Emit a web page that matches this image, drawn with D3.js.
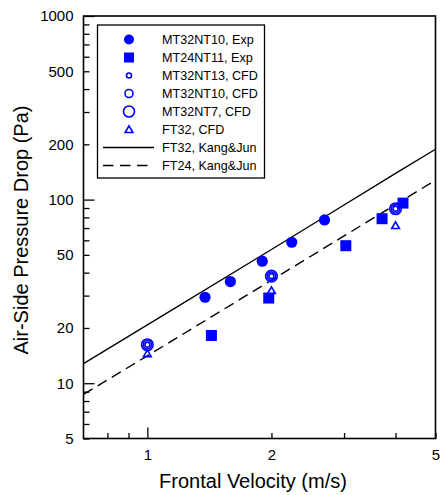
<!DOCTYPE html>
<html>
<head>
<meta charset="UTF-8">
<script src="https://d3js.org/d3.v7.min.js"></script>
<style>
  body { margin: 0; background: #fff; }
  text { font-family: Arial, "Liberation Sans", sans-serif; }
</style>
</head>
<body>
<div id="my_dataviz"></div>
<script>
// measured data (frontal velocity in m/s, pressure drop in Pa)
var expNT10V = [1.38, 1.59, 1.90, 2.24, 2.69];
var expNT10P = [29.4, 35.8, 46.2, 58.6, 77.5];
var expNT11V = [1.43, 1.97, 3.03, 3.71, 4.17];
var expNT11P = [18.2, 29.1, 56.1, 78.7, 95.7];
var cfdV = [1, 2, 4];
var cfdNT13P = [16.2, 38.3, 89.2];
var cfdNT10P = [16.2, 38.3, 89.2];
var cfdNT7P = [16.2, 38.3, 89.2];
var cfdFT32P = [14.5, 32.0, 72.3];
// Kang&Jun correlation lines
var kjV = [0.7, 1, 2, 3, 4, 5];
var kjFT32P = [12.8, 20.8, 53.5, 93.5, 139, 188];
var kjFT24P = [8.7, 14.1, 36.4, 63.4, 94, 127.6];

var xTicks = [0.8, 0.9, 1, 2, 3, 4, 5];
var xLabels = [1, 2, 5];
var yTicks = [5, 6, 7, 8, 9, 10, 20, 30, 40, 50, 60, 70, 80, 90, 100, 200, 300, 400, 500, 600, 700, 800, 900, 1000];
var yLabels = [5, 10, 20, 50, 100, 200, 500, 1000];
var decades = [1, 10, 100, 1000];

var legendNames = ["MT32NT10, Exp", "MT24NT11, Exp", "MT32NT13, CFD", "MT32NT10, CFD",
                   "MT32NT7, CFD", "FT32, CFD", "FT32, Kang&Jun", "FT24, Kang&Jun"];

var blue = "#0000ff";
var W = 440, H = 495;
var mLeft = 83.5, mRight = 435.5, mTop = 16, mBottom = 438.5;

var svg = d3.select("#my_dataviz").append("svg")
  .attr("width", W).attr("height", H);

var x = d3.scaleLog().domain([0.7, 5]).range([mLeft, mRight]);
var y = d3.scaleLog().domain([5, 1000]).range([mBottom, mTop]);

// clip for lines
svg.append("clipPath").attr("id", "clip")
  .append("rect").attr("x", mLeft).attr("y", mTop)
  .attr("width", mRight - mLeft).attr("height", mBottom - mTop);

// x axis
var xAxis = svg.append("g")
  .attr("transform", "translate(0," + mBottom + ")")
  .call(d3.axisBottom(x).tickValues(xTicks).tickSizeInner(-5.5).tickSizeOuter(0).tickPadding(11)
    .tickFormat(function(d) { return xLabels.indexOf(d) >= 0 ? d : ""; }));
xAxis.select(".domain").remove();
xAxis.selectAll(".tick line").attr("stroke", "#000").attr("stroke-width", 1.3)
  .attr("y2", function(d) { return decades.indexOf(d) >= 0 ? -11 : -5.5; });
xAxis.selectAll("text").attr("font-size", 15).attr("fill", "#000");

// y axis
var yAxis = svg.append("g")
  .attr("transform", "translate(" + mLeft + ",0)")
  .call(d3.axisLeft(y).tickValues(yTicks).tickSizeInner(-6).tickSizeOuter(0).tickPadding(10)
    .tickFormat(function(d) { return yLabels.indexOf(d) >= 0 ? d : ""; }));
yAxis.select(".domain").remove();
yAxis.selectAll(".tick line").attr("stroke", "#000").attr("stroke-width", 1.3)
  .attr("x2", function(d) { return decades.indexOf(d) >= 0 ? 11 : 6; });
yAxis.selectAll("text").attr("font-size", 15).attr("fill", "#000");

// frame
svg.append("rect")
  .attr("x", mLeft).attr("y", mTop)
  .attr("width", mRight - mLeft).attr("height", mBottom - mTop)
  .attr("fill", "none").attr("stroke", "#000").attr("stroke-width", 1.6);

// titles
svg.append("text")
  .attr("x", 253).attr("y", 488)
  .attr("text-anchor", "middle").attr("font-size", 20)
  .text("Frontal Velocity (m/s)");
svg.append("text")
  .attr("transform", "translate(28,230) rotate(-90)")
  .attr("text-anchor", "middle").attr("font-size", 20)
  .text("Air-Side Pressure Drop (Pa)");

// lines
var line = d3.line().x(function(d) { return x(d[0]); }).y(function(d) { return y(d[1]); });
var plot = svg.append("g").attr("clip-path", "url(#clip)");
plot.append("path").datum(d3.zip(kjV, kjFT32P))
  .attr("d", line).attr("fill", "none").attr("stroke", "#000").attr("stroke-width", 1.4);
plot.append("path").datum(d3.zip(kjV, kjFT24P))
  .attr("d", line).attr("fill", "none").attr("stroke", "#000").attr("stroke-width", 1.4)
  .attr("stroke-dasharray", "10.5,6");

// markers
var tri = d3.symbol().type(d3.symbolTriangle).size(26);
plot.selectAll(".tri").data(d3.zip(cfdV, cfdFT32P)).enter().append("path")
  .attr("transform", function(d) { return "translate(" + x(d[0]) + "," + (y(d[1]) + 0.8) + ")"; })
  .attr("d", tri).attr("fill", "none").attr("stroke", blue).attr("stroke-width", 1.6);

plot.selectAll(".sq").data(d3.zip(expNT11V, expNT11P)).enter().append("rect")
  .attr("x", function(d) { return x(d[0]) - 5.5; })
  .attr("y", function(d) { return y(d[1]) - 5.5; })
  .attr("width", 11).attr("height", 11).attr("fill", blue);

plot.selectAll(".dot").data(d3.zip(expNT10V, expNT10P)).enter().append("circle")
  .attr("cx", function(d) { return x(d[0]); })
  .attr("cy", function(d) { return y(d[1]); })
  .attr("r", 5.6).attr("fill", blue);

function rings(vals, r) {
  plot.append("g").selectAll("circle").data(d3.zip(cfdV, vals)).enter().append("circle")
    .attr("cx", function(d) { return x(d[0]); })
    .attr("cy", function(d) { return y(d[1]); })
    .attr("r", r).attr("fill", "none").attr("stroke", blue).attr("stroke-width", 1.6);
}
rings(cfdNT13P, 2.5);
rings(cfdNT10P, 4.2);
rings(cfdNT7P, 5.8);

// legend
var lg = svg.append("g");
lg.append("rect").attr("x", 97.5).attr("y", 25).attr("width", 167).attr("height", 153)
  .attr("fill", "#fff").attr("stroke", "#000").attr("stroke-width", 1.3);
var symX = 129, txtX = 162;
function rowY(i) { return 39.5 + 18 * i; }
lg.append("circle").attr("cx", symX).attr("cy", rowY(0)).attr("r", 5).attr("fill", blue);
lg.append("rect").attr("x", symX - 5).attr("y", rowY(1) - 5).attr("width", 10).attr("height", 10).attr("fill", blue);
lg.append("circle").attr("cx", symX).attr("cy", rowY(2)).attr("r", 2.5)
  .attr("fill", "none").attr("stroke", blue).attr("stroke-width", 1.6);
lg.append("circle").attr("cx", symX).attr("cy", rowY(3)).attr("r", 4)
  .attr("fill", "none").attr("stroke", blue).attr("stroke-width", 1.6);
lg.append("circle").attr("cx", symX).attr("cy", rowY(4)).attr("r", 5.5)
  .attr("fill", "none").attr("stroke", blue).attr("stroke-width", 1.6);
lg.append("path").attr("transform", "translate(" + symX + "," + (rowY(5) + 0.8) + ")")
  .attr("d", tri).attr("fill", "none").attr("stroke", blue).attr("stroke-width", 1.6);
lg.append("line").attr("x1", 103).attr("x2", 154).attr("y1", rowY(6)).attr("y2", rowY(6))
  .attr("stroke", "#000").attr("stroke-width", 1.4);
lg.append("line").attr("x1", 103).attr("x2", 154).attr("y1", rowY(7)).attr("y2", rowY(7))
  .attr("stroke", "#000").attr("stroke-width", 1.4).attr("stroke-dasharray", "10.5,6.5");
lg.selectAll(".lt").data(legendNames).enter().append("text")
  .attr("x", txtX).attr("y", function(d, i) { return rowY(i); })
  .attr("dy", "0.36em").attr("font-size", 12.6).attr("fill", "#000")
  .text(function(d) { return d; });
</script>
</body>
</html>
